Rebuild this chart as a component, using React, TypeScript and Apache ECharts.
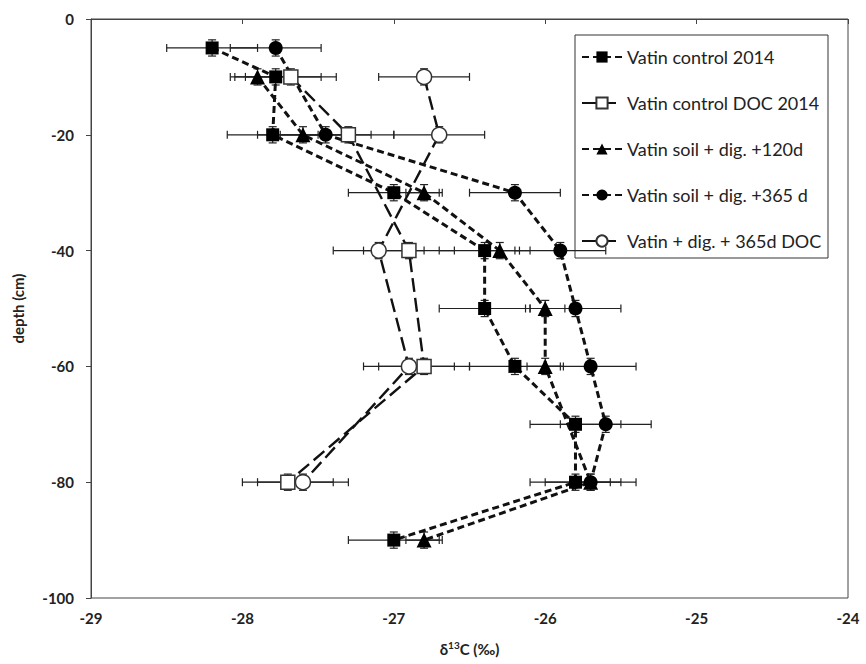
import React, { useEffect, useRef } from "react";
import * as echarts from "echarts";

// ---- data ----
const SERIES_NAMES = [
  "Vatin control 2014",
  "Vatin control DOC 2014",
  "Vatin soil + dig. +120d",
  "Vatin soil + dig. +365 d",
  "Vatin + dig. + 365d DOC",
];

const ctrlDepth = [-5, -10, -20, -30, -40, -50, -60, -70, -80, -90];
const ctrlD13C = [-28.2, -27.78, -27.8, -27.0, -26.4, -26.4, -26.2, -25.8, -25.8, -27.0];
const ctrlErr = [0.3, 0.3, 0.3, 0.3, 0.3, 0.3, 0.3, 0.3, 0.3, 0.3];

const ctrlDocDepth = [-10, -20, -40, -60, -80];
const ctrlDocD13C = [-27.68, -27.3, -26.9, -26.8, -27.7];
const ctrlDocErr = [0.3, 0.3, 0.3, 0.3, 0.3];

const d120Depth = [-10, -20, -30, -40, -50, -60, -80, -90];
const d120D13C = [-27.9, -27.6, -26.8, -26.3, -26.0, -26.0, -25.7, -26.8];
const d120Err = [0.15, 0.3, 0.12, 0.13, 0.13, 0.12, 0.3, 0.12];

const d365Depth = [-5, -20, -30, -40, -50, -60, -70, -80];
const d365D13C = [-27.78, -27.45, -26.2, -25.9, -25.8, -25.7, -25.6, -25.7];
const d365Err = [0.3, 0.3, 0.3, 0.3, 0.3, 0.3, 0.3, 0.13];

const d365DocDepth = [-10, -20, -40, -60, -80];
const d365DocD13C = [-26.8, -26.7, -27.1, -26.9, -27.6];
const d365DocErr = [0.3, 0.3, 0.3, 0.3, 0.3];

const DEPTH_ERR = 1.4;

const X_TICKS = [-29, -28, -27, -26, -25, -24];
const Y_TICKS = [-100, -80, -60, -40, -20, 0];

// ---- styles ----
const FONT = "Lato, 'Open Sans', sans-serif";
const SHORT_DASH = [7, 4];
const LONG_DASH = [14, 6];

type S = {
  name: string;
  depth: number[];
  vals: number[];
  err: number[];
  symbol: string;
  size: number;
  open: boolean;
  dash: number[];
};

const SERIES: S[] = [
  { name: SERIES_NAMES[0], depth: ctrlDepth, vals: ctrlD13C, err: ctrlErr, symbol: "rect", size: 13, open: false, dash: SHORT_DASH },
  { name: SERIES_NAMES[1], depth: ctrlDocDepth, vals: ctrlDocD13C, err: ctrlDocErr, symbol: "rect", size: 14, open: true, dash: LONG_DASH },
  { name: SERIES_NAMES[2], depth: d120Depth, vals: d120D13C, err: d120Err, symbol: "triangle", size: 15, open: false, dash: SHORT_DASH },
  { name: SERIES_NAMES[3], depth: d365Depth, vals: d365D13C, err: d365Err, symbol: "circle", size: 14, open: false, dash: SHORT_DASH },
  { name: SERIES_NAMES[4], depth: d365DocDepth, vals: d365DocD13C, err: d365DocErr, symbol: "circle", size: 15, open: true, dash: LONG_DASH },
];

function errRender(params: any, api: any) {
  const x = api.value(0);
  const y = api.value(1);
  const ex = api.value(2);
  const ey = api.value(3);
  const l = api.coord([x - ex, y]);
  const r = api.coord([x + ex, y]);
  const t = api.coord([x, y + ey]);
  const b = api.coord([x, y - ey]);
  const cap = 4;
  const st = { stroke: "#222", lineWidth: 1.2 };
  return {
    type: "group",
    children: [
      { type: "line", shape: { x1: l[0], y1: l[1], x2: r[0], y2: r[1] }, style: st },
      { type: "line", shape: { x1: l[0], y1: l[1] - cap, x2: l[0], y2: l[1] + cap }, style: st },
      { type: "line", shape: { x1: r[0], y1: r[1] - cap, x2: r[0], y2: r[1] + cap }, style: st },
      { type: "line", shape: { x1: t[0], y1: t[1], x2: b[0], y2: b[1] }, style: st },
      { type: "line", shape: { x1: t[0] - cap, y1: t[1], x2: t[0] + cap, y2: t[1] }, style: st },
      { type: "line", shape: { x1: b[0] - cap, y1: b[1], x2: b[0] + cap, y2: b[1] }, style: st },
    ],
  };
}

export default function App() {
  const ref = useRef<HTMLDivElement>(null);

  useEffect(() => {
    if (!ref.current) return;
    const chart = echarts.init(ref.current, undefined, { renderer: "svg" });

    const series: any[] = [];
    SERIES.forEach((s, i) => {
      series.push({
        name: "err" + i,
        type: "custom",
        renderItem: errRender,
        data: s.vals.map((v, k) => [v, s.depth[k], s.err[k], DEPTH_ERR]),
        encode: { x: 0, y: 1 },
        z: 1,
        silent: true,
      });
    });
    SERIES.forEach((s) => {
      series.push({
        name: s.name,
        type: "line",
        data: s.vals.map((v, k) => [v, s.depth[k]]),
        symbol: s.symbol,
        symbolSize: s.size,
        showAllSymbol: true,
        lineStyle: { color: "#111", width: s.open ? 2.4 : 3, type: s.dash },
        itemStyle: s.open
          ? { color: "#fff", borderColor: "#333", borderWidth: 1.5 }
          : { color: "#000", borderColor: "#000", borderWidth: 0 },
        z: 3,
      });
    });

    chart.setOption({
      animation: false,
      backgroundColor: "#fff",
      grid: {
        left: 91,
        top: 19,
        right: 18,
        bottom: 66,
        show: true,
        borderColor: "#444",
        borderWidth: 1,
        backgroundColor: "transparent",
      },
      xAxis: {
        type: "value",
        min: X_TICKS[0],
        max: X_TICKS[X_TICKS.length - 1],
        interval: 1,
        name: "δ{sup|13}C (‰)",
        nameLocation: "middle",
        nameGap: 42,
        nameTextStyle: {
          fontFamily: FONT,
          fontSize: 15,
          fontWeight: "bold",
          color: "#222",
          rich: {
            sup: { fontFamily: FONT, fontSize: 10, fontWeight: "bold", color: "#222", padding: [0, 0, 7, 0] },
          },
        },
        axisLine: { show: true, lineStyle: { color: "#444", width: 1 } },
        axisTick: { show: true, inside: false, length: 5, lineStyle: { color: "#444" } },
        axisLabel: { fontFamily: FONT, fontSize: 15, fontWeight: "bold", color: "#222", margin: 12 },
        splitLine: { show: false },
      },
      yAxis: {
        type: "value",
        min: Y_TICKS[0],
        max: Y_TICKS[Y_TICKS.length - 1],
        interval: 20,
        name: "depth (cm)",
        nameLocation: "middle",
        nameGap: 66,
        nameTextStyle: { fontFamily: FONT, fontSize: 15, fontWeight: "bold", color: "#222" },
        axisLine: { show: true, onZero: false, lineStyle: { color: "#444", width: 1 } },
        axisTick: { show: true, inside: false, length: 5, lineStyle: { color: "#444" } },
        axisLabel: { fontFamily: FONT, fontSize: 15, fontWeight: "bold", color: "#222", margin: 17 },
        splitLine: { show: false },
      },
      legend: {
        data: SERIES_NAMES,
        orient: "vertical",
        left: 581,
        top: 48,
        itemWidth: 40,
        itemHeight: 14,
        itemGap: 28,
        padding: 0,
        selectedMode: false,
        textStyle: { fontFamily: FONT, fontSize: 18, color: "#222" },
      },
      graphic: [
        {
          type: "rect",
          shape: { x: 575, y: 35, width: 253, height: 223 },
          style: { fill: "none", stroke: "#333", lineWidth: 1 },
          z: 0,
          silent: true,
        },
      ],
      series,
    });

    return () => chart.dispose();
  }, []);

  return (
    <div
      ref={ref}
      style={{ position: "fixed", left: 0, top: 0, width: 866, height: 664, background: "#fff" }}
    />
  );
}
